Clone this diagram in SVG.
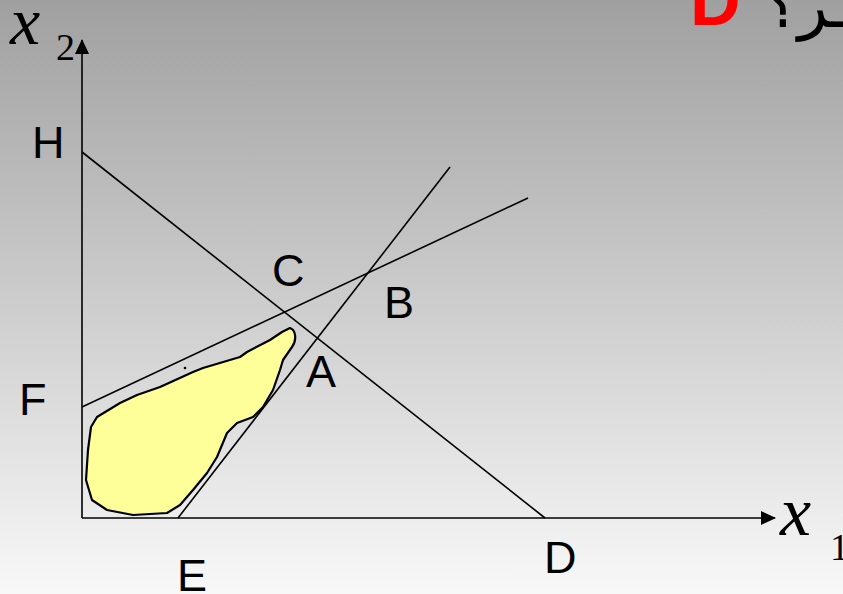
<svg xmlns="http://www.w3.org/2000/svg" width="843" height="594" viewBox="0 0 843 594">
<defs>
<linearGradient id="bg" x1="0" y1="0" x2="0" y2="1">
<stop offset="0" stop-color="#a0a0a0"/>
<stop offset="1" stop-color="#f8f8f8"/>
</linearGradient>
<marker id="arr" markerWidth="15" markerHeight="14" refX="14" refY="7" orient="auto" markerUnits="userSpaceOnUse">
<path d="M0,0 L15,7 L0,14 Z" fill="#000"/>
</marker>
<style>
.ln{stroke:#000;stroke-width:1.6;fill:none}
.lbl{font-family:"Liberation Sans",Arial,sans-serif;font-size:45px;fill:#000}
.var{font-family:"Liberation Serif","Times New Roman",serif;font-style:italic;fill:#000}
.sub{font-family:"Liberation Serif","Times New Roman",serif;fill:#000}
</style>
</defs>
<rect x="0" y="0" width="843" height="594" fill="url(#bg)"/>
<g id="title">
<text x="690" y="25" font-family="'Liberation Sans',Arial,sans-serif" font-weight="bold" font-size="70" fill="#ff0000">D</text>
<text x="850" y="27" text-anchor="end" font-family="'DejaVu Sans',sans-serif" font-size="62" fill="#000">ـر؟</text>
</g>
<g id="region">
<path d="M290,328 C296,330 297,340 292,347 L283,360 L280,370 L273,390 L263,407 L253,417 L237,423 L227,433 L217,457 L207,473 L193,490 L180,505 L167,513 L133,515 L107,510 L92,500 L86,480 L88,450 L91,427 L97,417 L120,403 L137,395 L160,387 L193,372 L203,368 L240,357 L247,352 L270,340 L282,332 Z" fill="#ffff99" stroke="#000" stroke-width="2.2" stroke-linejoin="round"/>
<circle cx="185" cy="368" r="1.3" fill="#000"/>
</g>
<g id="connectors">
<line class="ln" x1="82" y1="518" x2="82" y2="40" marker-end="url(#arr)"/>
<line class="ln" x1="82" y1="518" x2="775" y2="518" marker-end="url(#arr)"/>
<line class="ln" x1="82" y1="152" x2="545" y2="518"/>
<line class="ln" x1="82" y1="407" x2="528" y2="198"/>
<line class="ln" x1="178" y1="518" x2="450" y2="167"/>
</g>
<g id="axis-x2"><text class="var" x="10" y="44" font-size="68">x</text><text class="sub" x="56" y="60" font-size="38">2</text></g>
<g id="axis-x1"><text class="var" x="780" y="535" font-size="70">x</text><text class="sub" x="830" y="560" font-size="38">1</text></g>
<g id="H"><text class="lbl" x="32" y="158">H</text></g>
<g id="C"><text class="lbl" x="272" y="286">C</text></g>
<g id="B"><text class="lbl" x="384" y="318">B</text></g>
<g id="A"><text class="lbl" x="306" y="387">A</text></g>
<g id="F"><text class="lbl" x="19" y="415">F</text></g>
<g id="E"><text class="lbl" x="177" y="591">E</text></g>
<g id="D"><text class="lbl" x="544" y="573">D</text></g>
</svg>
